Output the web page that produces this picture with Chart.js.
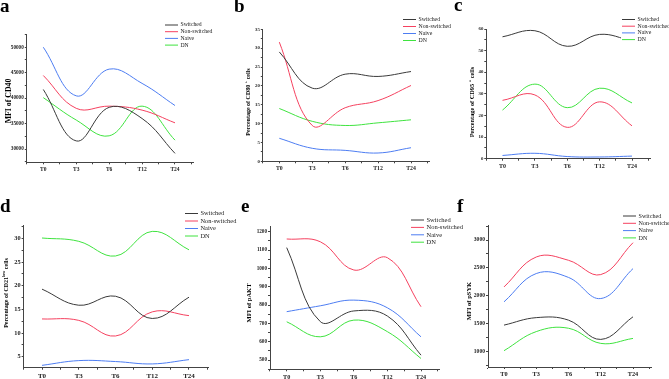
<!DOCTYPE html>
<html>
<head>
<meta charset="utf-8">
<script src="https://cdn.jsdelivr.net/npm/chart.js@4/dist/chart.umd.min.js"></script>
<style>
  html, body { margin: 0; padding: 0; background: #fff; }
  #wrap { position: relative; width: 669px; height: 379px; overflow: hidden; }
  #wrap canvas { position: absolute; left: 0; top: 0; }
</style>
</head>
<body>
<div id="wrap">
  <canvas id="pa" width="669" height="379"></canvas>
  <canvas id="pb" width="669" height="379"></canvas>
  <canvas id="pc" width="669" height="379"></canvas>
  <canvas id="pd" width="669" height="379"></canvas>
  <canvas id="pe" width="669" height="379"></canvas>
  <canvas id="pf" width="669" height="379"></canvas>
</div>
<script>
var timeLabels = ['T0', 'T3', 'T6', 'T12', 'T24'];
var seriesNames = ['Switched', 'Non-switched', 'Naive', 'DN'];
var seriesColors = ['#3a3a3a', '#f5415f', '#4d7df2', '#3fe33f'];

// one row per series: Switched, Non-switched, Naive, DN
var mfiCD40 = [
  [41700, 31600, 38200, 36000, 29150],
  [44450, 38000, 38430, 37650, 35150],
  [50000, 40450, 45700, 42900, 38550],
  [40100, 35700, 32600, 38430, 31750]
];
var pctCD80 = [
  [29.0, 19.4, 23.1, 22.5, 23.8],
  [31.6, 9.5, 14.2, 16.1, 20.1],
  [6.1, 3.45, 2.9, 2.2, 3.6],
  [14.0, 10.6, 9.5, 10.2, 11.0]
];
var pctCD95 = [
  [56.4, 59.2, 52.0, 57.5, 54.5],
  [27.0, 29.5, 14.5, 26.3, 15.2],
  [1.5, 2.5, 1.0, 0.8, 1.2],
  [22.5, 34.5, 23.6, 32.6, 25.8]
];
var pctCD21low = [
  [19.3, 15.9, 17.8, 13.1, 17.6],
  [13.0, 12.7, 9.4, 14.5, 13.7],
  [3.2, 4.2, 4.0, 3.5, 4.4],
  [30.1, 29.4, 26.3, 31.5, 27.6]
];
var mfiPAKT = [
  [1113, 710, 768, 740, 527],
  [1160, 1145, 991, 1058, 791],
  [764, 796, 827, 785, 627],
  [709, 627, 718, 655, 509]
];
var mfiPSYK = [
  [1476, 1610, 1565, 1220, 1625],
  [2160, 2696, 2637, 2381, 2952],
  [1893, 2400, 2330, 1952, 2488],
  [1018, 1360, 1420, 1149, 1238]
];

// layout of the six panels, in page pixels
var panels = [
  { id: 'pa', values: mfiCD40, letter: 'a', lx: 0, ly: 12,
    x0: 26.8, x1: 193, t0: 43.3, t24: 175, top: 34, bottom: 162.3,
    min: 27400, max: 52600, major: 5000, minor: 2500, ytick: 5.2, xtick: 5.5,
    title: [['MFI of CD40', 0]], tx: 9, ty: 101, tsize: 7.8,
    legend: { x: 165, y: 25, dy: 6.7, size: 5.7 } },
  { id: 'pb', values: pctCD80, letter: 'b', lx: 234, ly: 12,
    x0: 262.8, x1: 429, t0: 279.3, t24: 411, top: 29.3, bottom: 161.3,
    min: 0, max: 35, major: 5, minor: 2.5, ytick: 4.8, xtick: 5.8,
    title: [['Percentage of CD80 ', 0], ['+', 1], [' cells', 0]], tx: 248, ty: 102, tsize: 6,
    legend: { x: 403, y: 19.5, dy: 7, size: 5.8 } },
  { id: 'pc', values: pctCD95, letter: 'c', lx: 454, ly: 11,
    x0: 486.3, x1: 650, t0: 502.5, t24: 632, top: 29, bottom: 158.7,
    min: 0, max: 60, major: 10, minor: 5, ytick: 4.8, xtick: 6,
    title: [['Percentage of CD95 ', 0], ['+', 1], [' cells', 0]], tx: 472, ty: 102, tsize: 6.3,
    legend: { x: 622, y: 19.5, dy: 6.7, size: 5.8 } },
  { id: 'pd', values: pctCD21low, letter: 'd', lx: 0, ly: 212,
    x0: 23.6, x1: 209, t0: 42, t24: 189, top: 225.7, bottom: 367.7,
    min: 2.7, max: 32.7, major: 5, minor: 2.5, ytick: 6.3, xtick: 7,
    title: [['Percentage of CD21', 0], ['low', 1], [' cells', 0]], tx: 6, ty: 293, tsize: 6,
    legend: { x: 185, y: 213.5, dy: 7.5, size: 6.4 } },
  { id: 'pe', values: mfiPAKT, letter: 'e', lx: 241, ly: 212,
    x0: 270, x1: 439, t0: 286.7, t24: 421, top: 226.7, bottom: 369.3,
    min: 450, max: 1227, major: 100, minor: 50, ytick: 5.2, xtick: 6.2,
    title: [['MFI of pAKT', 0]], tx: 249.5, ty: 303, tsize: 6.5,
    legend: { x: 411, y: 220, dy: 7.4, size: 6.5 } },
  { id: 'pf', values: mfiPSYK, letter: 'f', lx: 457, ly: 212,
    x0: 488, x1: 651, t0: 504, t24: 633, top: 225, bottom: 367,
    min: 726, max: 3269, major: 500, minor: 250, ytick: 5.6, xtick: 6.3,
    title: [['MFI of pSYK', 0]], tx: 469.5, ty: 301, tsize: 6.5,
    legend: { x: 623, y: 216, dy: 7.3, size: 6.1 } }
];

var SERIF = '"Liberation Serif", "Times New Roman", serif';

var decor = {
  id: 'decor',
  afterDraw: function (chart, args, o) {
    var ctx = chart.ctx;
    ctx.save();
    // panel letter
    ctx.fillStyle = '#000';
    ctx.textBaseline = 'alphabetic';
    ctx.textAlign = 'left';
    ctx.font = 'bold 19px ' + SERIF;
    ctx.fillText(o.letter, o.lx, o.ly);

    // y axis title, rotated, with superscript parts
    ctx.save();
    ctx.translate(o.tx, o.ty);
    ctx.rotate(-Math.PI / 2);
    ctx.textBaseline = 'middle';
    var total = 0;
    o.title.forEach(function (p) {
      ctx.font = 'bold ' + (p[1] ? o.tsize * 0.7 : o.tsize) + 'px ' + SERIF;
      total += ctx.measureText(p[0]).width;
    });
    var x = -total / 2;
    o.title.forEach(function (p) {
      ctx.font = 'bold ' + (p[1] ? o.tsize * 0.7 : o.tsize) + 'px ' + SERIF;
      ctx.fillText(p[0], x, p[1] ? -o.tsize * 0.4 : 0);
      x += ctx.measureText(p[0]).width;
    });
    ctx.restore();

    // legend
    var lg = o.legend;
    ctx.font = lg.size + 'px ' + SERIF;
    var w = 0;
    seriesNames.forEach(function (n) { w = Math.max(w, ctx.measureText(n).width); });
    ctx.fillStyle = '#fff';
    ctx.fillRect(lg.x - 1, lg.y - lg.dy / 2, 16 + w + 2, lg.dy * 4);
    ctx.textBaseline = 'middle';
    seriesNames.forEach(function (n, i) {
      var y = lg.y + i * lg.dy;
      ctx.strokeStyle = seriesColors[i];
      ctx.lineWidth = 1;
      ctx.beginPath();
      ctx.moveTo(lg.x, y);
      ctx.lineTo(lg.x + 13, y);
      ctx.stroke();
      ctx.fillStyle = '#222';
      ctx.fillText(n, lg.x + 15.5, y);
    });
    ctx.restore();
  }
};

function tickList(min, max, step) {
  var out = [];
  for (var v = Math.ceil(min / step - 1e-9) * step; v <= max + 1e-9; v += step) {
    out.push(Math.round(v * 1000) / 1000);
  }
  return out;
}

function isMajor(v, major) {
  return Math.abs(v / major - Math.round(v / major)) < 1e-6;
}

panels.forEach(function (p) {
  var sp = (p.t24 - p.t0) / 4;
  var xMin = (p.x0 - p.t0) / sp;
  var xMax = 4 + (p.x1 - p.t24) / sp;
  var yTicks = tickList(p.min, p.max, p.minor);
  var xTicks = tickList(-0.5, 4.5, 0.5);

  var datasets = p.values.map(function (vals, i) {
    return {
      label: seriesNames[i],
      data: vals.map(function (v, j) { return { x: j, y: v }; }),
      borderColor: seriesColors[i],
      borderWidth: 1,
      pointRadius: 0,
      tension: 0.4,
      fill: false
    };
  });

  var axisGrid = { display: true, drawOnChartArea: false, drawTicks: true, tickLength: 2, tickColor: '#444', tickWidth: 1 };
  var axisBorder = { display: true, color: '#444', width: 1 };

  new Chart(document.getElementById(p.id), {
    type: 'line',
    data: { datasets: datasets },
    options: {
      responsive: false,
      animation: false,
      events: [],
      layout: {
        autoPadding: false,
        padding: { left: p.x0 - 20, right: 669 - p.x1, top: p.top, bottom: 379 - p.bottom - 20 }
      },
      plugins: {
        legend: { display: false },
        tooltip: { enabled: false },
        decor: p
      },
      scales: {
        x: {
          type: 'linear',
          min: xMin,
          max: xMax,
          grid: axisGrid,
          border: axisBorder,
          afterBuildTicks: function (s) { s.ticks = xTicks.map(function (v) { return { value: v }; }); },
          afterFit: function (s) { s.height = 20; },
          ticks: {
            autoSkip: false,
            maxRotation: 0,
            padding: 2,
            color: '#222',
            font: { family: SERIF, size: p.xtick, weight: 'bold' },
            callback: function (v) { return Number.isInteger(v) ? timeLabels[v] : ''; }
          }
        },
        y: {
          type: 'linear',
          min: p.min,
          max: p.max,
          grid: axisGrid,
          border: axisBorder,
          afterBuildTicks: function (s) { s.ticks = yTicks.map(function (v) { return { value: v }; }); },
          afterFit: function (s) { s.width = 20; },
          ticks: {
            autoSkip: false,
            padding: 1,
            color: '#222',
            font: { family: SERIF, size: p.ytick, weight: 'bold' },
            callback: function (v) { return isMajor(v, p.major) ? String(v) : ''; }
          }
        }
      }
    },
    plugins: [decor]
  });
});
</script>
</body>
</html>
